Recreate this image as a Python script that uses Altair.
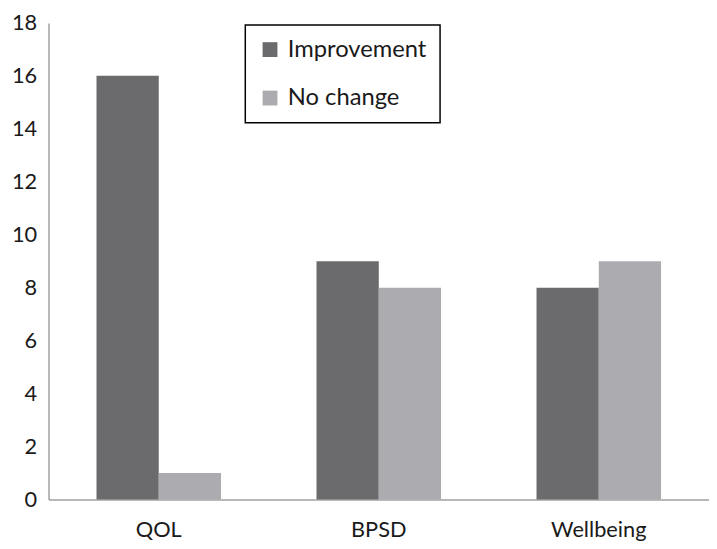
import altair as alt
import pandas as pd

categories = ["QOL", "BPSD", "Wellbeing"]
series = ["Improvement", "No change"]
improvement = [16, 9, 8]
no_change = [1, 8, 9]
y_ticks = [0, 2, 4, 6, 8, 10, 12, 14, 16, 18]
colors = ["#6b6b6d", "#acacb0"]

rows = []
for c, a, b in zip(categories, improvement, no_change):
    rows.append({"category": c, "series": series[0], "value": a})
    rows.append({"category": c, "series": series[1], "value": b})
df = pd.DataFrame(rows)

FONT = "Lato"

chart = (
    alt.Chart(df)
    .mark_bar()
    .encode(
        x=alt.X(
            "category:N",
            sort=categories,
            scale=alt.Scale(paddingInner=0.434, paddingOuter=0.218),
            axis=alt.Axis(
                title=None, labelAngle=0, ticks=False, domainColor="#a0a0a0",
                domainWidth=1.5, labelFontSize=22, labelFont=FONT,
                labelColor="#1a1a1a", labelPadding=20,
            ),
        ),
        xOffset=alt.XOffset("series:N", sort=series),
        y=alt.Y(
            "value:Q",
            scale=alt.Scale(domain=[0, 18], nice=False),
            axis=alt.Axis(
                title=None, values=y_ticks, grid=False, ticks=False,
                domainColor="#a0a0a0", domainWidth=1.5, labelFontSize=22,
                labelFont=FONT, labelColor="#1a1a1a", labelPadding=12,
            ),
        ),
        color=alt.Color(
            "series:N",
            sort=series,
            scale=alt.Scale(domain=series, range=colors),
            legend=alt.Legend(
                title=None, orient="none", legendX=199, legendY=2,
                strokeColor="#000000", padding=13, symbolType="square",
                symbolSize=225, symbolStrokeWidth=0, labelFontSize=24,
                labelFont=FONT, labelColor="#1a1a1a", rowPadding=25,
                labelOffset=6,
            ),
        ),
    )
    .properties(
        width=668, height=482,
        autosize=alt.AutoSizeParams(type="none"),
        padding={"left": 41, "top": 12, "right": 0, "bottom": 46},
    )
    .configure_view(stroke=None)
    .configure_legend(strokeWidth=1.5)
)

chart.save("out.html", embed_options={"renderer": "svg", "actions": False})
